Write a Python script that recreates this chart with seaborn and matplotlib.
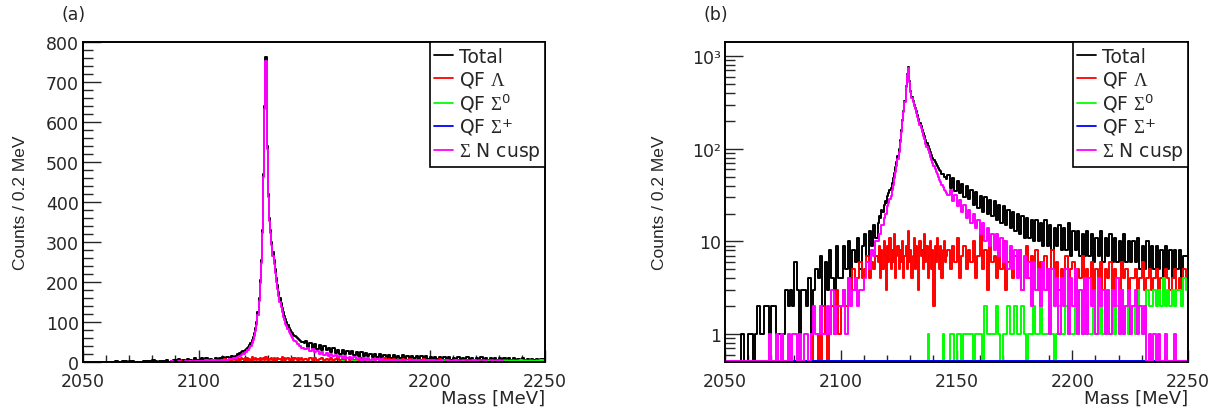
import numpy as np
import pandas as pd
import matplotlib
matplotlib.use("Agg")
import matplotlib.pyplot as plt
import seaborn as sns
from matplotlib.lines import Line2D
from matplotlib.ticker import MultipleLocator, FixedLocator, FuncFormatter, NullFormatter

# ---------------- data (counts per 0.2 MeV) ----------------
# bin layout: 1 MeV bins 2050-2116, 0.5 MeV bins 2116-2146, 1 MeV bins 2146-2250
edges_low = np.arange(2050, 2116, 1.0)
edges_mid = np.arange(2116, 2146, 0.5)
edges_high = np.arange(2146, 2251, 1.0)

total = [
    # 2050-2115 (1 MeV)
    0, 0, 0, 0, 0, 0, 0, 1, 0, 0,
    1, 1, 0, 1, 2, 1, 1, 2, 2, 1,
    2, 2, 1, 1, 1, 1, 3, 2, 3, 2,
    6, 3, 1, 3, 3, 2, 4, 1, 3, 5,
    4, 7, 2, 6, 3, 8, 4, 3, 9, 4,
    4, 9, 5, 10, 4, 8, 6, 11, 5, 9,
    12, 7, 13, 9, 15, 11,
    # 2116-2145.5 (0.5 MeV)
    16, 19, 18, 22, 21, 25, 27, 26, 31, 33,
    36, 38, 43, 48, 55, 63, 72, 84, 100, 125,
    160, 205, 255, 330, 470, 640, 762, 540, 420, 360,
    330, 300, 275, 255, 232, 210, 192, 176, 160, 148,
    136, 124, 115, 107, 100, 93, 86, 80, 76, 72,
    68, 65, 62, 59, 57, 54, 53, 50, 49, 47,
    # 2146-2249 (1 MeV)
    52, 38, 48, 35, 45, 33, 42, 30, 40, 29,
    36, 25, 34, 23, 31, 21, 30, 20, 28, 19,
    27, 17, 25, 16, 24, 15, 22, 14, 21, 13,
    20, 12, 19, 11, 18, 11, 17, 10, 17, 10,
    16, 9, 17, 9, 15, 8, 14, 9, 15, 8,
    14, 8, 16, 7, 13, 8, 13, 7, 12, 7,
    13, 7, 12, 6, 11, 7, 13, 6, 11, 7,
    12, 6, 11, 6, 10, 5, 12, 6, 10, 6,
    10, 6, 11, 5, 9, 5, 10, 5, 9, 5,
    9, 5, 8, 4, 9, 5, 8, 4, 8, 5,
    8, 4, 7, 7,
]

qf_lambda = [
    0, 0, 0, 0, 0, 0, 0, 0, 0, 0,
    0, 0, 0, 0, 0, 0, 0, 0, 0, 0,
    0, 0, 0, 0, 0, 0, 0, 0, 0, 0,
    0, 0, 0, 0, 0, 0, 0, 1, 0, 0,
    1, 0, 2, 1, 0, 1, 2, 1, 3, 1,
    2, 3, 2, 4, 3, 5, 3, 4, 6, 4,
    5, 7, 4, 6, 5, 7,
    6, 9, 4, 8, 5, 10, 7, 3, 9, 6,
    11, 5, 8, 6, 12, 4, 7, 9, 5, 8,
    6, 10, 4, 7, 9, 5, 13, 6, 8, 4,
    7, 11, 5, 9, 6, 3, 10, 7, 8, 5,
    12, 6, 9, 4, 7, 10, 5, 8, 2, 9,
    6, 11, 7, 5, 9, 4, 8, 10, 6, 7,
    8, 5, 9, 6, 11, 4, 7, 9, 5, 8,
    6, 10, 4, 7, 12, 5, 8, 3, 9, 6,
    7, 4, 8, 5, 10, 3, 6, 8, 4, 7,
    5, 8, 3, 6, 9, 4, 7, 5, 8, 3,
    6, 4, 7, 3, 5, 8, 4, 6, 3, 5,
    4, 7, 3, 5, 6, 3, 5, 4, 7, 3,
    5, 4, 6, 3, 5, 4, 6, 3, 5, 4,
    6, 3, 5, 4, 3, 6, 4, 5, 3, 4,
    4, 5, 3, 4, 6, 3, 4, 5, 3, 4,
    5, 3, 4, 3, 5, 4, 3, 4, 5, 3,
    4, 3, 5, 4,
]

qf_sigma0 = [0] * 66 + [
    0, 0, 0, 0, 0, 0, 0, 0, 0, 0,
    0, 0, 0, 0, 0, 0, 0, 0, 0, 0,
    0, 0, 0, 0, 0, 0, 0, 0, 0, 0,
    0, 0, 0, 0, 0, 0, 0, 0, 0, 0,
    0, 0, 0, 1, 0, 0, 0, 0, 0, 0,
    0, 0, 0, 0, 0, 0, 1, 0, 0, 0,
] + [
    0, 1, 1, 0, 1, 1, 0, 1, 1, 1,
    1, 0, 1, 1, 1, 0, 2, 1, 1, 1,
    1, 2, 1, 0, 1, 1, 2, 1, 1, 2,
    1, 1, 2, 1, 0, 1, 1, 2, 1, 1,
    2, 1, 1, 1, 2, 1, 0, 1, 2, 1,
    1, 2, 1, 1, 1, 2, 1, 3, 1, 1,
    2, 1, 1, 2, 1, 1, 2, 1, 3, 1,
    1, 2, 1, 2, 1, 3, 1, 2, 1, 2,
    2, 1, 3, 2, 2, 1, 3, 2, 2, 3,
    2, 3, 2, 4, 2, 3, 2, 3, 2, 3,
    3, 2, 4, 3,
]

qf_sigmap = [0] * 43 + [0.2] * 23 + [0.2] * 60 + [0.2] * 61 + [0] * 43

cusp = [
    0, 0, 0, 0, 0, 0, 0, 0, 0, 0,
    0, 0, 0, 0, 0, 0, 0, 0, 0, 1,
    0, 0, 1, 0, 1, 0, 0, 1, 0, 1,
    1, 0, 1, 0, 1, 1, 0, 1, 2, 1,
    1, 2, 1, 1, 2, 1, 3, 1, 2, 2,
    2, 3, 1, 4, 2, 3, 4, 2, 3, 3,
    4, 6, 5, 8, 7, 10,
    10, 12, 12, 15, 15, 18, 20, 20, 24, 26,
    29, 31, 36, 41, 48, 56, 65, 77, 93, 118,
    152, 198, 248, 322, 462, 632, 752, 532, 412, 352,
    322, 292, 266, 246, 223, 200, 182, 166, 150, 138,
    126, 113, 104, 96, 89, 82, 76, 70, 65, 61,
    56, 53, 49, 46, 44, 41, 39, 36, 35, 33,
    32, 36, 27, 32, 24, 28, 21, 25, 18, 22,
    16, 20, 14, 17, 12, 16, 10, 14, 9, 12,
    8, 12, 7, 11, 6, 10, 5, 9, 5, 8,
    4, 8, 3, 7, 4, 6, 2, 6, 3, 5,
    2, 6, 3, 5, 1, 5, 2, 4, 1, 4,
    2, 5, 1, 4, 2, 5, 1, 3, 1, 4,
    1, 4, 2, 3, 1, 4, 2, 3, 1, 3,
    1, 3, 2, 4, 1, 3, 1, 2, 3, 1,
    2, 3, 1, 2, 1, 2, 0, 1, 0, 1,
    0, 1, 0, 0, 1, 0, 0, 0, 1, 0,
    0, 0, 0, 0,
]

labels = ["Total", r"QF $\Lambda$", r"QF $\Sigma^{\mathsf{0}}$",
          r"QF $\Sigma^{\mathsf{+}}$", r"$\Sigma$ N cusp"]
colors = ["#000000", "#ff0000", "#00ff00", "#0000ff", "#ff00ff"]
series = [total, qf_lambda, qf_sigma0, qf_sigmap, cusp]

edges = np.concatenate([edges_low, edges_mid, edges_high])
for s in series:
    assert len(s) == len(edges) - 1, len(s)

# ---------------- style ----------------
sns.set_style("ticks")
plt.rcParams['font.family'] = ['Liberation Sans', 'DejaVu Sans']
plt.rcParams['mathtext.fontset'] = 'custom'
plt.rcParams['mathtext.rm'] = 'Liberation Serif'
plt.rcParams['mathtext.it'] = 'Liberation Serif:italic'
plt.rcParams['mathtext.bf'] = 'Liberation Serif:bold'
plt.rcParams['mathtext.sf'] = 'DejaVu Sans'

WIDEFONT = ['DejaVu Sans']

W, H = 1217, 414
fig = plt.figure(figsize=(W / 100, H / 100), dpi=100)


def px_axes(x0, x1, y0, y1):
    return fig.add_axes([x0 / W, 1 - y1 / H, (x1 - x0) / W, (y1 - y0) / H])


axA = px_axes(83, 545, 43, 363)
axB = px_axes(725, 1188, 43, 363)


def draw(ax, log):
    for vals, col in zip(series, colors):
        w = np.asarray(vals, float)
        if log:
            w = np.maximum(w, 0.515)
        df = pd.DataFrame({"mass": edges, "counts": np.append(w, w[-1])})
        sns.lineplot(data=df, x="mass", y="counts", drawstyle="steps-post",
                     estimator=None, sort=False, color=col, lw=1.4, ax=ax)
    ax.set_xlim(2050, 2250)
    ax.xaxis.set_major_locator(MultipleLocator(50))
    ax.xaxis.set_minor_locator(MultipleLocator(10))
    for sp in ax.spines.values():
        sp.set_visible(True)
        sp.set_linewidth(1.4)
        sp.set_color("black")
    ax.tick_params(axis='x', which='major', direction='in', length=9, width=1, pad=7,
                   labelsize=12.5, top=False)
    ax.tick_params(axis='x', which='minor', direction='in', length=5, width=1, top=False)
    ax.tick_params(axis='y', which='major', direction='in', length=13, width=1, pad=3,
                   labelsize=12.5, right=False)
    ax.tick_params(axis='y', which='minor', direction='in', length=7, width=1, right=False)
    ax.set_ylabel("Counts / 0.2 MeV", fontsize=12.5)
    ax.set_xlabel("Mass [MeV]", fontsize=13, ha='right', va='top', family=WIDEFONT)
    ax.xaxis.set_label_coords(1.0, -0.085)
    handles = [Line2D([0], [0], color=c, lw=1.3) for c in colors]
    leg = ax.legend(handles, labels, loc='upper right', bbox_to_anchor=(1, 1),
                    borderaxespad=0, frameon=True, fancybox=False, framealpha=1,
                    edgecolor='black', handlelength=1.0,
                    prop={'family': WIDEFONT, 'size': 13.5},
                    handletextpad=0.3, labelspacing=0.16, borderpad=0.25)
    leg.get_frame().set_linewidth(1.2)


draw(axA, False)
axA.set_ylim(0, 800)
axA.yaxis.set_major_locator(MultipleLocator(100))
axA.yaxis.set_minor_locator(MultipleLocator(20))
axA.yaxis.set_label_coords(-0.118, 0.5)

draw(axB, True)
axB.set_yscale('log')
axB.set_ylim(0.5, 1420)
axB.yaxis.set_major_locator(FixedLocator([1, 10, 100, 1000]))
minors = [m * 10 ** e for e in range(0, 4) for m in range(2, 10)] + [0.6, 0.7, 0.8, 0.9]
axB.yaxis.set_minor_locator(FixedLocator(minors))
axB.yaxis.set_minor_formatter(NullFormatter())
axB.yaxis.set_major_formatter(FuncFormatter(
    lambda v, p: {1: "1", 10: "10", 100: "10²", 1000: "10³"}.get(int(round(v)), "")))
axB.yaxis.set_label_coords(-0.125, 0.5)

for ax in (axA, axB):
    for t in ax.get_xticklabels() + ax.get_yticklabels():
        t.set_family(WIDEFONT)

fig.text(74 / W, 1 - 15 / H, "(a)", ha='center', va='center', fontsize=12.5, family=WIDEFONT)
fig.text(716 / W, 1 - 15 / H, "(b)", ha='center', va='center', fontsize=12.5, family=WIDEFONT)

fig.savefig("out.png", dpi=100)
